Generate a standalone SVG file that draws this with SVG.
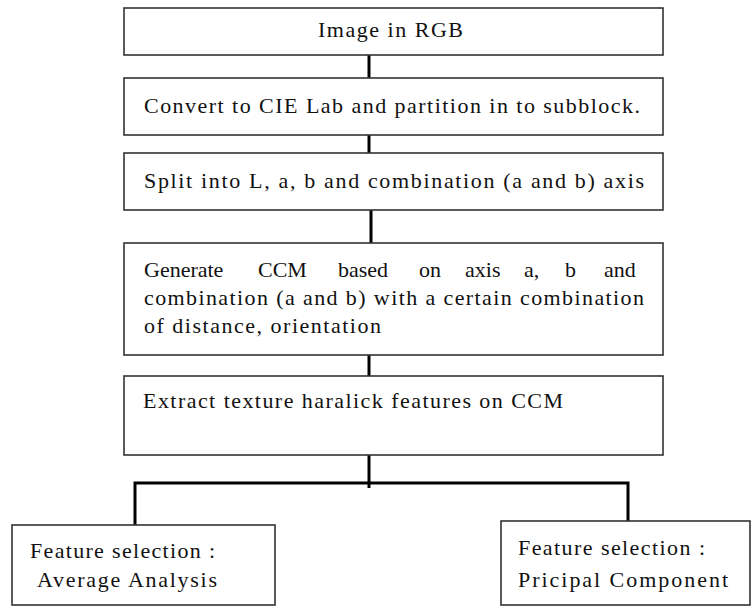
<svg xmlns="http://www.w3.org/2000/svg" width="752" height="608" viewBox="0 0 752 608">
<style>
.box{fill:#fff;stroke:#333;stroke-width:1.6}
.t{font-family:"Liberation Serif","Times New Roman",serif;font-size:22px;fill:#111}
.c{fill:none;stroke:#000;stroke-width:3}
</style>
<rect width="752" height="608" fill="#fff"/>
<g id="connectors">
<line class="c" x1="369" y1="53" x2="369" y2="79"/>
<line class="c" x1="369" y1="130" x2="369" y2="153"/>
<line class="c" x1="371" y1="210" x2="371" y2="247"/>
<line class="c" x1="369" y1="350" x2="369" y2="378"/>
<line class="c" x1="369" y1="448" x2="369" y2="488"/>
<polyline class="c" points="135,525 135,483 628,483 628,521"/>
</g>
<g id="n1">
<rect class="box" x="124" y="8" width="539" height="47"/>
<text class="t" x="318" y="37" textLength="145" lengthAdjust="spacing">Image in RGB</text>
</g>
<g id="n2">
<rect class="box" x="124" y="78" width="539" height="57"/>
<text class="t" x="144" y="113" textLength="496" lengthAdjust="spacing">Convert to CIE Lab and partition in to subblock.</text>
</g>
<g id="n3">
<rect class="box" x="124" y="153" width="539" height="57"/>
<text class="t" x="144" y="188" textLength="500" lengthAdjust="spacing">Split into L, a, b  and combination (a and b) axis</text>
</g>
<g id="n4">
<rect class="box" x="124" y="243" width="539" height="112"/>
<text class="t" y="277"><tspan x="144">Generate</tspan><tspan x="258">CCM</tspan><tspan x="338">based</tspan><tspan x="419">on</tspan><tspan x="465">axis</tspan><tspan x="524">a,</tspan><tspan x="565">b</tspan><tspan x="604">and</tspan></text>
<text class="t" x="144" y="305" textLength="500" lengthAdjust="spacing">combination (a and b) with a certain combination</text>
<text class="t" x="144" y="333" textLength="237" lengthAdjust="spacing">of distance, orientation</text>
</g>
<g id="n5">
<rect class="box" x="124" y="376" width="539" height="79"/>
<text class="t" x="143" y="408" textLength="420" lengthAdjust="spacing">Extract texture haralick features on CCM</text>
</g>
<g id="n6">
<rect class="box" x="12" y="525" width="263" height="80"/>
<text class="t" x="30" y="558" textLength="185" lengthAdjust="spacing">Feature selection :</text>
<text class="t" x="37" y="587" textLength="180" lengthAdjust="spacing">Average Analysis</text>
</g>
<g id="n7">
<rect class="box" x="501" y="521" width="249" height="84"/>
<text class="t" x="518" y="555" textLength="187" lengthAdjust="spacing">Feature selection :</text>
<text class="t" x="518" y="587" textLength="210" lengthAdjust="spacing">Pricipal Component</text>
</g>
</svg>
